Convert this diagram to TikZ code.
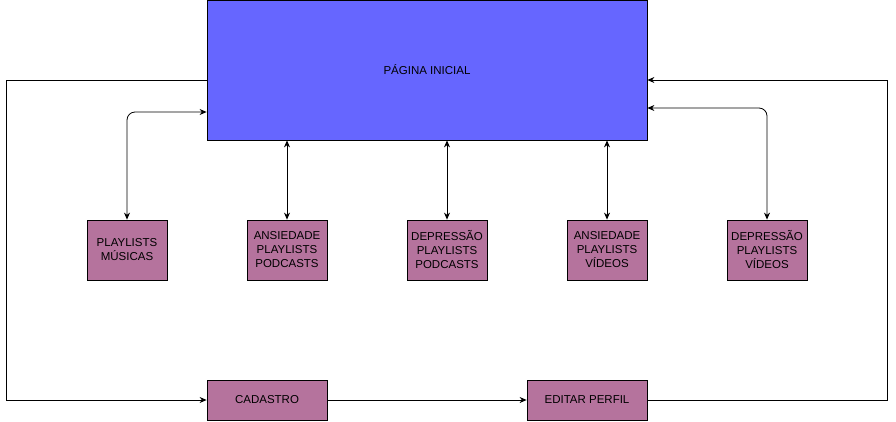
\documentclass[tikz,border=0pt]{standalone}
\usepackage{fontspec}
\setmainfont{Liberation Sans}
\usetikzlibrary{arrows.meta, positioning}

\definecolor{inicioblue}{HTML}{6666FF}
\definecolor{boxpurple}{HTML}{B5739D}

\tikzset{
  telabox/.style={draw, line width=0.8pt, fill=boxpurple, minimum width=80pt,
    minimum height=60pt, align=center, inner sep=1pt,
    font=\fontsize{11.5}{14}\selectfont},
  link/.style={line width=0.8pt, >={Stealth[length=7pt, width=6pt]}}
}

\begin{document}
\begin{tikzpicture}[x=1pt, y=-1pt]
  \useasboundingbox (0,0) rectangle (896,421);

  % Main page
  \node[draw, line width=0.8pt, fill=inicioblue, minimum width=440pt, minimum height=140pt,
    font=\fontsize{11.5}{14}\selectfont] (inicio) at (427,70) {PÁGINA INICIAL};

  % Playlist screens
  \node[telabox] (musicas) at (127,250) {PLAYLISTS\\MÚSICAS};
  \node[telabox] (ansp) at (287,250) {ANSIEDADE\\PLAYLISTS\\PODCASTS};
  \node[telabox] (depp) at (447,250) {DEPRESSÃO\\PLAYLISTS\\PODCASTS};
  \node[telabox] (ansv) at (607,250) {ANSIEDADE\\PLAYLISTS\\VÍDEOS};
  \node[telabox] (depv) at (767,250) {DEPRESSÃO\\PLAYLISTS\\VÍDEOS};

  % Account screens
  \node[telabox, minimum width=120pt, minimum height=40pt] (cadastro) at (267,400) {CADASTRO};
  \node[telabox, minimum width=120pt, minimum height=40pt] (editar) at (587,400) {EDITAR PERFIL};

  % Links to the main page
  \draw[link, <->, rounded corners=8pt] (musicas.north) |- ([yshift=-42pt]inicio.west);
  \foreach \n in {ansp, depp, ansv}
    \draw[link, <->] (inicio.south -| \n.north) -- (\n.north);
  \draw[link, <->, rounded corners=8pt] (depv.north) |- ([yshift=-38pt]inicio.east);

  % Account loop
  \draw[link, ->] ([yshift=-10pt]inicio.west) -- ++(-200,0) |- (cadastro.west);
  \draw[link, ->] (cadastro.east) -- (editar.west);
  \draw[link, ->] (editar.east) -- ++(240,0) |- ([yshift=-10pt]inicio.east);

\end{tikzpicture}
\end{document}
